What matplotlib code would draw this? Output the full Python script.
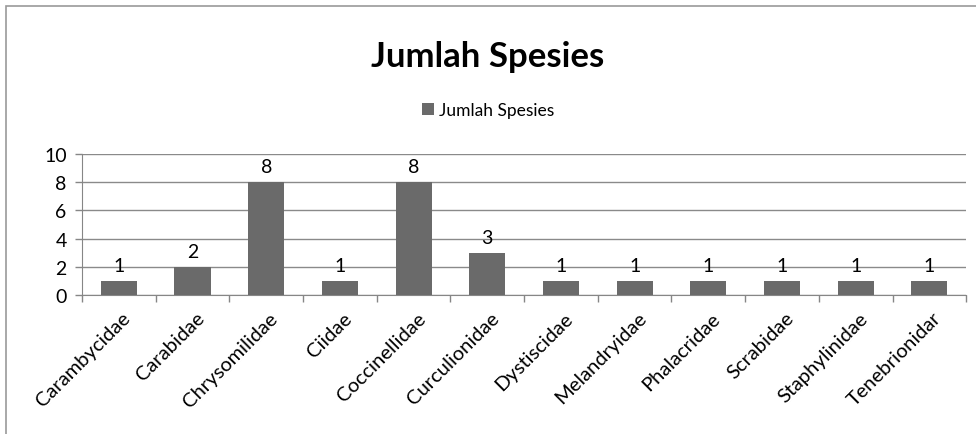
import matplotlib.pyplot as plt
from matplotlib.patches import Rectangle
from matplotlib.transforms import ScaledTranslation
import numpy as np

families = ['Carambycidae', 'Carabidae', 'Chrysomilidae', 'Ciidae', 'Coccinellidae',
            'Curculionidae', 'Dystiscidae', 'Melandryidae', 'Phalacridae', 'Scrabidae',
            'Staphylinidae', 'Tenebrionidar']
jumlah = [1, 2, 8, 1, 8, 3, 1, 1, 1, 1, 1, 1]
y_ticks = [0, 2, 4, 6, 8, 10]

plt.rcParams['font.family'] = ['Lato', 'DejaVu Sans']

fig = plt.figure(figsize=(9.76, 4.35), dpi=100)
ax = fig.add_axes([0.084, 0.3195, 0.906, 0.3242])

x = np.arange(len(families))
bars = ax.bar(x, jumlah, width=0.49, color='#6a6a6a', label='Jumlah Spesies', zorder=3)

for b, v in zip(bars, jumlah):
    ax.annotate(str(v), (b.get_x() + b.get_width() / 2, v), xytext=(0, 5),
                textcoords='offset points', ha='center', va='bottom', fontsize=14)

ax.set_xlim(-0.5, len(families) - 0.5)
ax.set_ylim(0, 10)
ax.set_yticks(y_ticks)
ax.tick_params(axis='y', labelsize=14, length=5, color='#868686', width=1, pad=6)
ax.grid(axis='y', color='#8a8a8a', linewidth=1, zorder=0)

ax.set_xticks(np.arange(-0.5, len(families), 1))
ax.set_xticklabels([])
ax.set_xticks(x, minor=True)
ax.set_xticklabels(families, minor=True, rotation=45, ha='right',
                   rotation_mode='anchor', fontsize=14.5)
ax.tick_params(axis='x', which='major', length=5, color='#868686', width=1)
ax.tick_params(axis='x', which='minor', length=0, pad=10)
# nudge the slanted labels a little to the right, like the original
shift = ScaledTranslation(3 / 100, 0, fig.dpi_scale_trans)
for lbl in ax.get_xticklabels(minor=True):
    lbl.set_transform(lbl.get_transform() + shift)

for s in ['top', 'right']:
    ax.spines[s].set_visible(False)
for s in ['left', 'bottom']:
    ax.spines[s].set_color('#868686')

fig.text(0.5, 0.868, 'Jumlah Spesies', ha='center', va='center',
         fontsize=25, fontweight='bold')
fig.legend(handles=[bars], labels=['Jumlah Spesies'], loc='center',
           bbox_to_anchor=(0.5, 0.745), frameon=False, fontsize=12.5,
           handlelength=0.7, handleheight=0.7, handletextpad=0.3)

fig.patches.append(Rectangle((0.006, -0.1), 1.1, 1.084, transform=fig.transFigure,
                             fill=False, edgecolor='#9a9a9a', linewidth=1.2))

fig.savefig('out.png', dpi=100)
